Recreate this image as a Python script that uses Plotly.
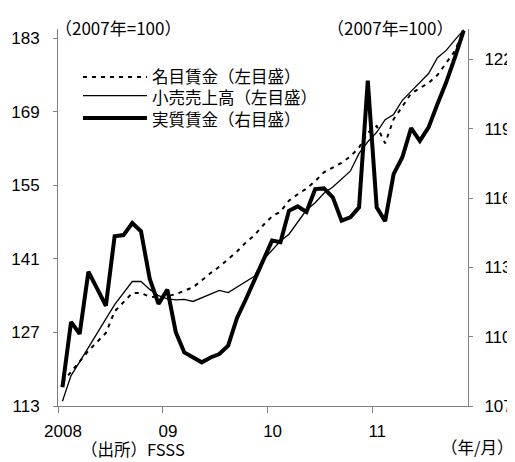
import plotly.graph_objects as go
import pandas as pd

months = pd.date_range("2008-01-01", "2011-11-01", freq="MS").strftime("%Y-%m-%d").tolist()

nominal_wage = [117.5, 119.5, 121.5, 123.5, 125.2, 126.9, 131.0, 132.8, 134.5, 134.5,
                133.8, 133.7, 133.9, 134.3, 135.0, 135.6, 136.9, 138.3, 139.5, 140.9,
                142.4, 144.1, 145.5, 147.4, 149.1, 150.0, 152.1, 153.3, 154.4, 155.8,
                157.5, 158.4, 159.3, 160.5, 162.2, 165.0, 166.3, 163.0, 167.6, 170.0,
                172.5, 173.5, 174.5, 176.0, 178.3, 180.6, 184.6]

retail_sales = [113.9, 118.8, 121.4, 124.2, 127.0, 129.6, 132.3, 134.6, 136.7, 136.7,
                135.2, 134.0, 133.4, 133.2, 133.3, 132.9, 133.6, 134.3, 135.0, 134.6,
                135.6, 136.6, 137.7, 140.8, 142.6, 144.4, 145.7, 148.0, 150.3, 151.7,
                153.5, 154.7, 156.2, 157.7, 161.1, 163.3, 165.1, 167.5, 168.5, 171.2,
                172.9, 174.7, 176.3, 179.3, 180.7, 182.7, 184.6]

real_wage = [107.81, 110.64, 110.12, 112.81, 112.08, 111.34, 114.35, 114.40, 114.92, 114.56,
             112.50, 111.42, 112.04, 110.19, 109.32, 109.12, 108.89, 109.10, 109.25, 109.61,
             110.80, 111.60, 112.45, 113.40, 114.16, 114.09, 115.45, 115.64, 115.40, 116.39,
             116.42, 116.03, 115.02, 115.17, 115.60, 121.08, 115.60, 115.00, 117.04, 117.77,
             119.03, 118.48, 119.06, 120.07, 121.01, 122.09, 123.25]

series_names = ["名目賃金（左目盛）", "小売売上高（左目盛）", "実質賃金（右目盛）"]
x_tickvals = ["2008-01-01", "2009-01-01", "2010-01-01", "2011-01-01"]
x_ticktext = ["2008", "09", "10", "11"]
left_ticks = [113, 127, 141, 155, 169, 183]
right_ticks = [107, 110, 113, 116, 119, 122]

# page is offset by the default 8px body margin
OFF = 8
W, H = 515 - OFF, 462 - OFF
L, R, T, B = 58 - OFF, 47, 29 - OFF, 55.5
PW, PH = W - L - R, H - T - B

def px(xp):
    return (xp - OFF - L) / PW

def py(yp):
    return (H - B - (yp - OFF)) / PH

NUM_FONT = "Liberation Sans, Arial, Noto Sans CJK JP"
JP_FONT = "Noto Sans CJK JP, Liberation Sans"

fig = go.Figure()
common = dict(x=months, xperiod="M1", xperiodalignment="middle", mode="lines",
              showlegend=False, hoverinfo="skip")
fig.add_trace(go.Scatter(y=nominal_wage, name=series_names[0],
                         line=dict(color="black", width=2, dash="4px,5px"), **common))
fig.add_trace(go.Scatter(y=retail_sales, name=series_names[1],
                         line=dict(color="black", width=1.3), **common))
fig.add_trace(go.Scatter(y=real_wage, name=series_names[2], yaxis="y2",
                         line=dict(color="black", width=4), **common))

axis_color = "#808080"
fig.update_layout(
    width=W, height=H,
    margin=dict(l=L, r=R, t=T, b=B, autoexpand=False),
    paper_bgcolor="white", plot_bgcolor="white",
    font=dict(family=NUM_FONT, size=17, color="black"),
    xaxis=dict(type="date", range=["2008-01-01", "2011-12-01"],
               tickvals=x_tickvals, ticktext=x_ticktext,
               ticks="outside", ticklen=6, tickcolor=axis_color,
               showline=True, linecolor=axis_color, linewidth=1,
               showgrid=False, zeroline=False, ticklabelshift=5,
               ticklabelstandoff=4),
    yaxis=dict(range=[113, 184.77], tickvals=left_ticks,
               ticks="outside", ticklen=4, tickcolor=axis_color,
               showline=True, linecolor=axis_color, linewidth=1,
               showgrid=False, zeroline=False, ticklabelstandoff=10),
    yaxis2=dict(range=[107, 123.32], tickvals=right_ticks, overlaying="y", side="right",
                ticks="outside", ticklen=4, tickcolor=axis_color,
                showline=True, linecolor=axis_color, linewidth=1,
                showgrid=False, zeroline=False, ticklabelstandoff=8),
)

# legend drawn as keys + one multi-line label block inside the plot area
key_y = [77, 95.7, 118]
key_styles = [dict(color="black", width=2, dash="4px,5px"),
              dict(color="black", width=1.3),
              dict(color="black", width=4)]
for ky, st in zip(key_y, key_styles):
    fig.add_shape(type="line", xref="paper", yref="paper",
                  x0=px(83), x1=px(147), y0=py(ky), y1=py(ky), line=st)
fig.add_annotation(text="<br>".join(series_names), xref="paper", yref="paper",
                   x=px(150), y=py(97.5), xanchor="left", yanchor="middle", align="left",
                   showarrow=False, font=dict(family=JP_FONT, size=16.5))

fig.add_annotation(text="（2007年=100）", xref="paper", yref="paper", x=px(53), y=py(27),
                   xanchor="left", yanchor="middle", showarrow=False,
                   font=dict(family=JP_FONT, size=17))
fig.add_annotation(text="（2007年=100）", xref="paper", yref="paper", x=px(455), y=py(27),
                   xanchor="right", yanchor="middle", showarrow=False,
                   font=dict(family=JP_FONT, size=17))
fig.add_annotation(text="（出所）FSSS", xref="paper", yref="paper", x=px(79), y=py(450),
                   xanchor="left", yanchor="middle", showarrow=False,
                   font=dict(family=JP_FONT, size=16.5))
fig.add_annotation(text="（年/月）", xref="paper", yref="paper", x=px(515), y=py(448),
                   xanchor="right", yanchor="middle", showarrow=False,
                   font=dict(family=JP_FONT, size=16.5))

fig.write_html("out.html")
